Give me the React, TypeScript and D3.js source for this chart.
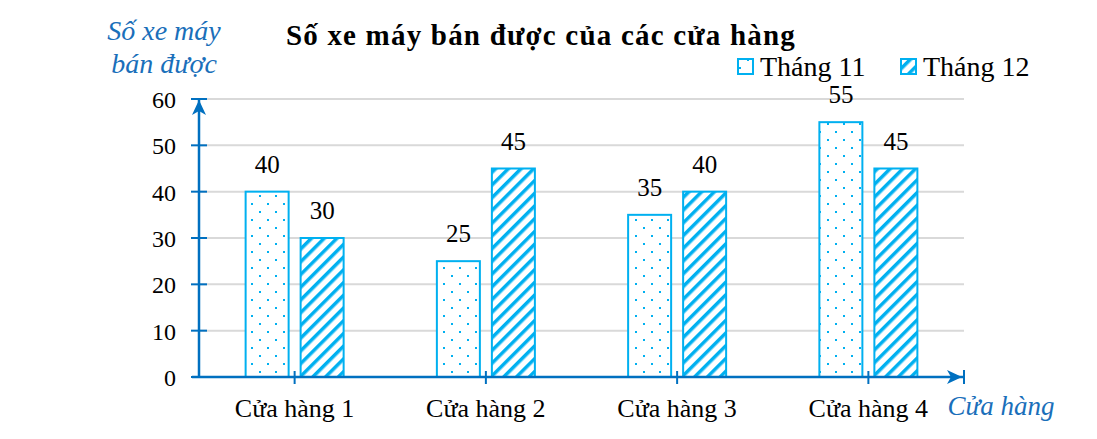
import React from "react";
import * as d3 from "d3";

const categories = ["Cửa hàng 1", "Cửa hàng 2", "Cửa hàng 3", "Cửa hàng 4"];
const seriesNames = ["Tháng 11", "Tháng 12"];
const thang11 = [40, 25, 35, 55];
const thang12 = [30, 45, 40, 45];
const yTicks = [0, 10, 20, 30, 40, 50, 60];

const W = 1097;
const H = 439;
const AXIS = "#0070c0";
const BAR = "#00b0f0";
const FONT = "'Liberation Serif', 'Times New Roman', serif";

export default function App() {
  const x0 = 199;
  const x1 = 964;
  const yBase = 377;
  const yTop = 99;
  const x = d3.scaleBand<string>().domain(categories).range([x0, x1]);
  const y = d3.scaleLinear().domain([0, 60]).range([yBase, yTop]);
  const barW = 43;
  const gap = 12;

  return (
    <svg width={W} height={H} style={{ position: "absolute", left: 0, top: 0, background: "#fff" }}>
      <defs>
        <pattern id="dots" width={16} height={16} patternUnits="userSpaceOnUse">
          <rect x={3} y={3} width={2} height={2} fill={BAR} />
          <rect x={11} y={11} width={2} height={2} fill={BAR} />
        </pattern>
        <pattern id="hatch" width={9} height={9} patternUnits="userSpaceOnUse" patternTransform="rotate(45)">
          <rect x={0} y={0} width={3.5} height={9} fill={BAR} />
        </pattern>
      </defs>

      {/* gridlines */}
      {yTicks.map((t) => (
        <line key={t} x1={x0} x2={x1} y1={y(t)} y2={y(t)} stroke="#d9d9d9" strokeWidth={2} />
      ))}

      {/* bars */}
      {categories.map((c, i) => {
        const cx = (x(c) as number) + x.bandwidth() / 2;
        const vals = [thang11[i], thang12[i]];
        return (
          <g key={c}>
            {vals.map((v, j) => {
              const bx = j === 0 ? cx - gap / 2 - barW : cx + gap / 2;
              return (
                <g key={j}>
                  <rect x={bx} y={y(v)} width={barW} height={yBase - y(v)} fill="#fff" />
                  <rect
                    x={bx}
                    y={y(v)}
                    width={barW}
                    height={yBase - y(v)}
                    fill={j === 0 ? "url(#dots)" : "url(#hatch)"}
                    stroke={BAR}
                    strokeWidth={2}
                  />
                  <text
                    x={bx + barW / 2}
                    y={y(v) - 19}
                    textAnchor="middle"
                    fontFamily={FONT}
                    fontSize={25}
                    fill="#000"
                  >
                    {v}
                  </text>
                </g>
              );
            })}
            <line x1={cx} x2={cx} y1={yBase - 6} y2={yBase + 7} stroke={AXIS} strokeWidth={2} />
            <text x={cx} y={417} textAnchor="middle" fontFamily={FONT} fontSize={26} fill="#000">
              {c}
            </text>
          </g>
        );
      })}

      {/* y axis */}
      <line x1={x0} x2={x0} y1={yBase} y2={yTop} stroke={AXIS} strokeWidth={2.5} />
      {yTicks.map((t) => (
        <g key={t}>
          <line x1={x0 - 8} x2={x0 + 8} y1={y(t)} y2={y(t)} stroke={AXIS} strokeWidth={2} />
          <text
            x={176}
            y={y(t) + 9}
            textAnchor="end"
            fontFamily={FONT}
            fontSize={24}
            fill="#000"
          >
            {t}
          </text>
        </g>
      ))}
      <path d={`M${x0},${yTop + 1} L${x0 + 7},${yTop + 16} L${x0},${yTop + 12} L${x0 - 7},${yTop + 16} Z`} fill={AXIS} />

      {/* x axis */}
      <line x1={x0 - 7} x2={x1} y1={yBase} y2={yBase} stroke={AXIS} strokeWidth={2.5} />
      <line x1={x1} x2={x1} y1={yBase - 7} y2={yBase + 7} stroke={AXIS} strokeWidth={2} />
      <path d={`M${x1 - 2},${yBase} L${x1 - 17},${yBase - 7} L${x1 - 13},${yBase} L${x1 - 17},${yBase + 7} Z`} fill={AXIS} />

      {/* axis titles */}
      <text x={164} y={40} textAnchor="middle" fontFamily={FONT} fontStyle="italic" fontSize={28} fill="#1a6fba">
        Số xe máy
      </text>
      <text x={164} y={73} textAnchor="middle" fontFamily={FONT} fontStyle="italic" fontSize={28} fill="#1a6fba">
        bán được
      </text>
      <text x={1001} y={415} textAnchor="middle" fontFamily={FONT} fontStyle="italic" fontSize={27} fill="#1a6fba">
        Cửa hàng
      </text>

      {/* title */}
      <text x={541} y={45} textAnchor="middle" fontFamily={FONT} fontWeight="bold" fontSize={29} letterSpacing={1.2} fill="#000">
        Số xe máy bán được của các cửa hàng
      </text>

      {/* legend */}
      {seriesNames.map((s, j) => {
        const lx = j === 0 ? 738 : 901;
        return (
          <g key={s}>
            <rect x={lx} y={59} width={15} height={15} fill="#fff" />
            <rect
              x={lx}
              y={59}
              width={15}
              height={15}
              fill={j === 0 ? "url(#dots)" : "url(#hatch)"}
              stroke={BAR}
              strokeWidth={2}
            />
            <text x={lx + 22} y={76} fontFamily={FONT} fontSize={28} fill="#000">
              {s}
            </text>
          </g>
        );
      })}
    </svg>
  );
}
